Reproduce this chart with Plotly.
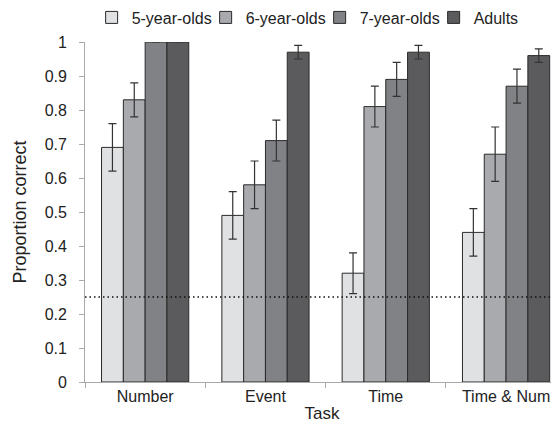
import plotly.graph_objects as go

categories = ["Number", "Event", "Time", "Time & Num"]
groups = ["5-year-olds", "6-year-olds", "7-year-olds", "Adults"]
values = {
    "5-year-olds": [0.69, 0.49, 0.32, 0.44],
    "6-year-olds": [0.83, 0.58, 0.81, 0.67],
    "7-year-olds": [1.00, 0.71, 0.89, 0.87],
    "Adults":      [1.00, 0.97, 0.97, 0.96],
}
errors = {
    "5-year-olds": [0.07, 0.07, 0.06, 0.07],
    "6-year-olds": [0.05, 0.07, 0.06, 0.08],
    "7-year-olds": [0.00, 0.06, 0.05, 0.05],
    "Adults":      [0.00, 0.02, 0.02, 0.02],
}
colors = ["#e0e1e3", "#a9aaad", "#818285", "#5b5b5d"]
chance_level = 0.25

fig = go.Figure()
for g, c in zip(groups, colors):
    fig.add_trace(go.Bar(
        name=g, x=categories, y=values[g],
        marker=dict(color=c, line=dict(color="#2a2a2a", width=1)),
        error_y=dict(type="data", array=errors[g], color="#333333",
                     thickness=1.2, width=4),
    ))

fig.add_shape(type="line", xref="paper", x0=0, x1=1, yref="y",
              y0=chance_level, y1=chance_level,
              line=dict(color="#111111", width=1.3, dash="1.5px,3px"))

font_family = "Liberation Sans, Arial, Helvetica, sans-serif"
fig.update_layout(
    width=551, height=416,
    margin=dict(l=77, r=0, t=34, b=42, autoexpand=False),
    paper_bgcolor="white", plot_bgcolor="white",
    barmode="group", bargap=0.275, bargroupgap=0,
    font=dict(family=font_family, size=16, color="#222222"),
    legend=dict(orientation="h", x=0.014, xanchor="left",
                y=1.072, yanchor="middle", yref="paper",
                font=dict(size=16), itemwidth=30,
                entrywidth=69, entrywidthmode="pixels",
                bgcolor="rgba(0,0,0,0)", tracegroupgap=0),
    xaxis=dict(type="category", range=[-0.5, 3.44], automargin=False,
               showline=True, linecolor="#aaaaaa", linewidth=1,
               ticks="outside", tickson="boundaries", ticklen=5,
               tickcolor="#aaaaaa", showgrid=False,
               tickfont=dict(size=16),
               title=dict(text="Task", font=dict(size=17), standoff=2)),
    yaxis=dict(range=[0, 1], dtick=0.1, showline=True, automargin=False,
               linecolor="#aaaaaa", linewidth=1,
               ticks="outside", ticklen=5, tickcolor="#aaaaaa",
               showgrid=False, zeroline=False,
               tickfont=dict(size=16), ticksuffix="\u00a0\u00a0",
               title=dict(text="Proportion correct", font=dict(size=18),
                          standoff=13)),
)

fig.write_html("out.html")
